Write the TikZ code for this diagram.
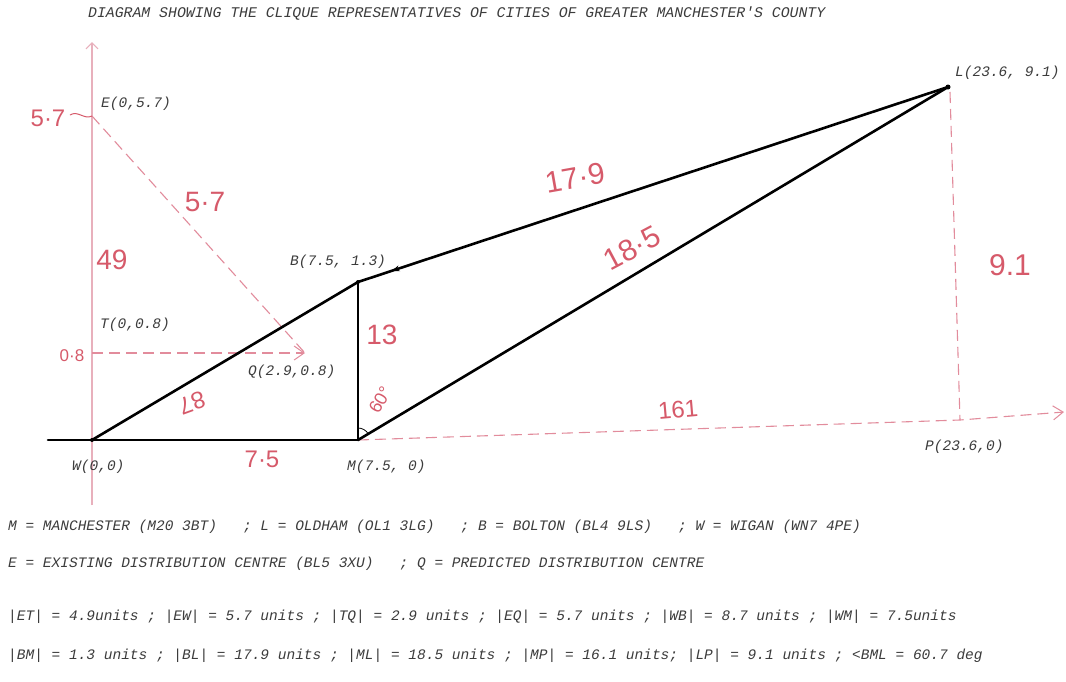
\documentclass[tikz,border=0pt]{standalone}
\usepackage{fontspec}
\setmonofont{Liberation Mono}
\setsansfont{Liberation Sans}
\usetikzlibrary{arrows.meta,decorations.markings}
\definecolor{hand}{RGB}{214,90,106}
\definecolor{axispink}{RGB}{232,176,188}
\definecolor{guidepink}{RGB}{226,140,156}
\definecolor{txt}{RGB}{60,60,60}
\begin{document}
\begin{tikzpicture}[x=1pt,y=-1pt,
  lbl/.style={font=\fontsize{14.5}{16}\selectfont\ttfamily\itshape, text=txt, inner sep=0pt, anchor=west},
  hw/.style={font=\fontsize{24}{26}\selectfont\sffamily, text=hand, inner sep=0pt},
  edge/.style={line width=2.6pt, black, line cap=round},
  guide/.style={guidepink, line width=1.1pt, dash pattern=on 11pt off 6pt},
  barb/.style={-{Straight Barb[length=10pt,width=14pt,line width=1pt]}},
  vtx/.style={circle, fill=black, inner sep=0pt, minimum size=5pt},
]
\useasboundingbox[fill=white] (0,0) rectangle (1066,681);

% coordinates
\coordinate (W) at (92,440);
\coordinate (M) at (358,440);
\coordinate (B) at (358,282);
\coordinate (L) at (948,87);
\coordinate (E) at (92,116);
\coordinate (T) at (92,353);
\coordinate (Q) at (305,353);
\coordinate (P) at (960,420);
\coordinate (ytop) at (92,42);
\coordinate (ybot) at (92,505);
\coordinate (xleft) at (48,440);
\coordinate (xend) at (1064,412);
\coordinate (Ltop) at (950,92);

% title
\node[lbl, font=\fontsize{14.8}{16}\selectfont\ttfamily\itshape] (title) at (88,14) {DIAGRAM SHOWING THE CLIQUE REPRESENTATIVES OF CITIES OF GREATER MANCHESTER'S COUNTY};

% pink axis and guides
\draw[axispink, line width=1.8pt, -{Straight Barb[length=6pt,width=12pt,line width=1.2pt]}] (ybot) -- (ytop);
\draw[guide] (E) -- (Q);
\draw[guide, barb] (T) -- (Q);
\draw[guide, barb] (M) -- (P) -- (xend);
\draw[guide] (Ltop) -- (P);
\draw[hand, line width=1pt] (70,115) .. controls (78,110) and (84,120) .. (E);

% black edges
\draw[edge] (xleft) -- (M);
\draw[edge] (W) -- (B);
\draw[edge] (B) -- (M);
\draw[edge] (M) -- (L);
\draw[edge, postaction={decorate}, decoration={markings, mark=at position 0.07 with {\arrow[line width=1pt]{Stealth[length=8pt,width=6pt,reversed]}}}] (B) -- (L);
\node[vtx] (Ldot) at (L) {};
\node[vtx, minimum size=4pt] (Wdot) at (W) {};
\node[vtx, minimum size=4pt] (Bdot) at (B) {};
\draw[black, line width=0.8pt] ([yshift=12pt]M) arc[start angle=-90, end angle=-31, radius=12];

% point labels
\node[lbl] (Elbl) at (101,104) {E(0,5.7)};
\node[lbl] (Tlbl) at (100,325) {T(0,0.8)};
\node[lbl] (Qlbl) at (248,372) {Q(2.9,0.8)};
\node[lbl] (Blbl) at (290,262) {B(7.5, 1.3)};
\node[lbl] (Llbl) at (955,73) {L(23.6, 9.1)};
\node[lbl] (Wlbl) at (72,467) {W(0,0)};
\node[lbl] (Mlbl) at (347,467) {M(7.5, 0)};
\node[lbl] (Plbl) at (925,447) {P(23.6,0)};

% handwritten measures
\node[hw] (h1) at (48,118) {5·7};
\node[hw, font=\fontsize{28}{30}\selectfont\sffamily] (h2) at (205,202) {5·7};
\node[hw, font=\fontsize{28}{30}\selectfont\sffamily] (h3) at (112,260) {49};
\node[hw, font=\fontsize{17}{19}\selectfont\sffamily] (h4) at (72,356) {0·8};
\node[hw, rotate=200] (h5) at (192,403) {87};
\node[hw] (h6) at (262,459) {7·5};
\node[hw, font=\fontsize{28}{30}\selectfont\sffamily] (h7) at (382,335) {13};
\node[hw, font=\fontsize{18}{20}\selectfont\sffamily, rotate=60] (h8) at (380,400) {60°};
\node[hw, font=\fontsize{30}{32}\selectfont\sffamily, rotate=10] (h9) at (575,178) {17·9};
\node[hw, font=\fontsize{30}{32}\selectfont\sffamily, rotate=28] (h10) at (632,248) {18·5};
\node[hw, font=\fontsize{30}{32}\selectfont\sffamily] (h11) at (1010,265) {9.1};
\node[hw, rotate=5] (h12) at (678,410) {161};

% legend
\node[lbl] (leg1) at (8,527) {M = MANCHESTER (M20 3BT)~~~; L = OLDHAM (OL1 3LG)~~~; B = BOLTON (BL4 9LS)~~~; W = WIGAN (WN7 4PE)};
\node[lbl] (leg2) at (8,564) {E = EXISTING DISTRIBUTION CENTRE (BL5 3XU)~~~; Q = PREDICTED DISTRIBUTION CENTRE};
\node[lbl] (leg3) at (8,617) {|ET| = 4.9units ; |EW| = 5.7 units ; |TQ| = 2.9 units ; |EQ| = 5.7 units ; |WB| = 8.7 units ; |WM| = 7.5units};
\node[lbl] (leg4) at (8,656) {|BM| = 1.3 units ; |BL| = 17.9 units ; |ML| = 18.5 units ; |MP| = 16.1 units; |LP| = 9.1 units ; <BML = 60.7 deg};
\end{tikzpicture}
\end{document}
